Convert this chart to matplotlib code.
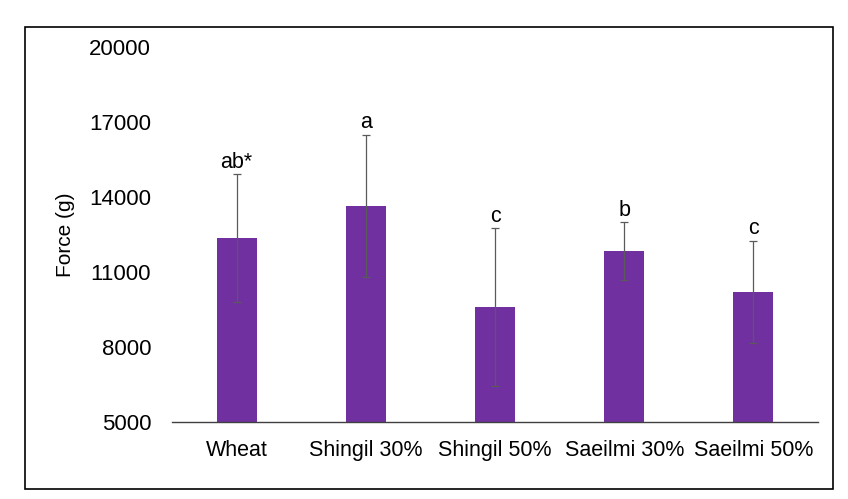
import matplotlib
matplotlib.use("Agg")
import matplotlib.pyplot as plt
from matplotlib.patches import Rectangle

categories = ["Wheat", "Shingil 30%", "Shingil 50%", "Saeilmi 30%", "Saeilmi 50%"]
values = [12360, 13640, 9600, 11840, 10200]
errors = [2560, 2850, 3160, 1150, 2050]
letters = ["ab*", "a", "c", "b", "c"]
yticks = [5000, 8000, 11000, 14000, 17000, 20000]

plt.rcParams['font.family'] = ['Liberation Sans', 'DejaVu Sans']

fig = plt.figure(figsize=(8.48, 4.99), dpi=100)
ax = fig.add_axes([172/848, 1-422/499, 646/848, (422-47)/499])

x = list(range(len(categories)))
ax.bar(x, values, width=0.31, color="#7030A0", zorder=2)
ax.errorbar(x, values, yerr=errors, fmt="none", ecolor="#5a5a5a", elinewidth=0.9,
            capsize=3, capthick=0.9, zorder=3)
for xi, v, e, t in zip(x, values, errors, letters):
    ax.text(xi, v + e + 250, t, ha="center", va="baseline", fontsize=15.5, color="black")

ax.set_xlim(-0.5, len(categories) - 0.5)
ax.set_ylim(5000, 20000)
ax.set_yticks(yticks)
ax.set_yticklabels([str(t) for t in yticks], fontsize=16)
ax.set_xticks(x)
ax.set_xticklabels(categories, fontsize=15.5)
ax.tick_params(axis="y", length=0, pad=15)
ax.tick_params(axis="x", length=0, pad=13)
for s in ["top", "right", "left"]:
    ax.spines[s].set_visible(False)
ax.spines["bottom"].set_color("#404040")
ax.spines["bottom"].set_linewidth(1.0)
ax.set_ylabel("Force (g)", fontsize=15, labelpad=10)

fig.patches.append(Rectangle((25/848, 1-489/499), (833-25)/848, (489-27)/499,
                             transform=fig.transFigure, fill=False,
                             edgecolor="black", linewidth=1.2))

fig.savefig("out.png", dpi=100)
